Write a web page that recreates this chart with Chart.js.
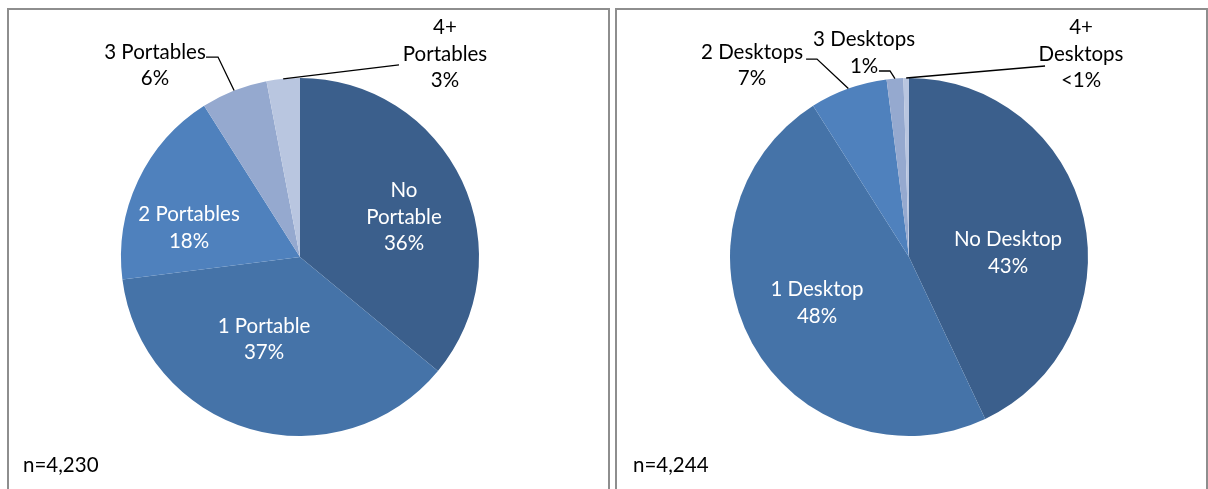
<!DOCTYPE html>
<html>
<head>
<meta charset="utf-8">
<script src="https://cdn.jsdelivr.net/npm/chart.js@4/dist/chart.umd.min.js"></script>
<style>
  html, body { margin: 0; padding: 0; background: #fff; }
  body { width: 1208px; height: 489px; position: relative; overflow: hidden; }
  .box { position: absolute; top: 8px; height: 500px; border: 2px solid #8e8e8e; box-sizing: border-box; background: #fff; }
  #boxL { left: 7px; width: 603px; }
  #boxR { left: 615px; width: 593px; }
  canvas { position: absolute; left: 0; top: 0; }
</style>
</head>
<body>
<div class="box" id="boxL"><canvas id="chartL" width="599" height="480"></canvas></div>
<div class="box" id="boxR"><canvas id="chartR" width="589" height="480"></canvas></div>
<script>
// ---------- DATA ----------
const portableCategories = ['No Portable', '1 Portable', '2 Portables', '3 Portables', '4+ Portables'];
const portableValues = [36, 37, 18, 6, 3];
const portableLabelLines = [['No', 'Portable', '36%'], ['1 Portable', '37%'], ['2 Portables', '18%'], ['3 Portables', '6%'], ['4+', 'Portables', '3%']];
const portableSample = 'n=4,230';

const desktopCategories = ['No Desktop', '1 Desktop', '2 Desktops', '3 Desktops', '4+ Desktops'];
const desktopValues = [43, 48, 7, 1.5, 0.5];
const desktopLabelLines = [['No Desktop', '43%'], ['1 Desktop', '48%'], ['2 Desktops', '7%'], ['3 Desktops', '1%'], ['4+', 'Desktops', '<1%']];
const desktopSample = 'n=4,244';

// ---------- STYLE ----------
const sliceColors = ['#3b5f8c', '#4573a8', '#4f81bd', '#95a9cf', '#b9c6e0'];
const FONT = '20.5px Lato, "Open Sans", sans-serif';
const LINE_H = 26.5;

// label layout, normalised to the pie radius, relative to the pie centre
const portableLayout = [
  { inside: true,  dx: 0.581,  dy: -0.223 },
  { inside: true,  dx: -0.201, dy: 0.461 },
  { inside: true,  dx: -0.620, dy: -0.162 },
  { inside: false, dx: -0.810, dy: -1.070, leader: [[-0.525, -1.117], [-0.458, -1.117]] },
  { inside: false, dx: 0.810,  dy: -1.134, leader: [[0.553, -1.073]] }
];
const desktopLayout = [
  { inside: true,  dx: 0.553,  dy: -0.022 },
  { inside: true,  dx: -0.514, dy: 0.257 },
  { inside: false, dx: -0.877, dy: -1.070, leader: [[-0.575, -1.106], [-0.514, -1.106]] },
  { inside: false, dx: -0.251, dy: -1.140, leader: [[-0.168, -1.039], [-0.106, -1.039]] },
  { inside: false, dx: 0.961,  dy: -1.134, leader: [[0.760, -1.067]] }
];

const pieLabelPlugin = {
  id: 'pieLabels',
  afterDatasetsDraw(chart, args, opts) {
    const ctx = chart.ctx;
    const meta = chart.getDatasetMeta(0);
    ctx.save();
    ctx.font = FONT;
    ctx.textAlign = 'center';
    ctx.textBaseline = 'middle';
    meta.data.forEach((arc, i) => {
      const p = arc.getProps(['x', 'y', 'startAngle', 'endAngle', 'outerRadius'], true);
      const cx = p.x, cy = p.y, r = p.outerRadius;
      const mid = (p.startAngle + p.endAngle) / 2;
      const lay = opts.layout[i];
      const lines = opts.lines[i];
      const tx = cx + lay.dx * r, ty = cy + lay.dy * r;
      if (!lay.inside && lay.leader) {
        ctx.beginPath();
        ctx.strokeStyle = '#000';
        ctx.lineWidth = 1.3;
        lay.leader.forEach((pt, k) => {
          const X = cx + pt[0] * r, Y = cy + pt[1] * r;
          if (k === 0) ctx.moveTo(X, Y); else ctx.lineTo(X, Y);
        });
        ctx.lineTo(cx + Math.cos(mid) * r, cy + Math.sin(mid) * r);
        ctx.stroke();
      }
      ctx.fillStyle = lay.inside ? '#ffffff' : '#000000';
      const n = lines.length;
      lines.forEach((t, k) => {
        ctx.fillText(t, tx, ty + (k - (n - 1) / 2) * LINE_H);
      });
    });
    ctx.textAlign = 'left';
    ctx.fillStyle = '#000';
    ctx.fillText(opts.sample, opts.sampleX, opts.sampleY);
    ctx.restore();
  }
};

function makePie(id, categories, values, lines, layout, sample, pad, sampleX) {
  return new Chart(document.getElementById(id), {
    type: 'pie',
    data: {
      labels: categories,
      datasets: [{ data: values, backgroundColor: sliceColors, borderWidth: 0, hoverOffset: 0 }]
    },
    options: {
      responsive: false,
      animation: false,
      layout: { padding: pad },
      plugins: {
        legend: { display: false },
        tooltip: { enabled: false },
        pieLabels: { lines: lines, layout: layout, sample: sample, sampleX: sampleX, sampleY: 455 }
      }
    },
    plugins: [pieLabelPlugin]
  });
}

makePie('chartL', portableCategories, portableValues, portableLabelLines, portableLayout, portableSample,
  { left: 112, right: 129, top: 68, bottom: 54 }, 14);
makePie('chartR', desktopCategories, desktopValues, desktopLabelLines, desktopLayout, desktopSample,
  { left: 113, right: 118, top: 68, bottom: 54 }, 16);
</script>
</body>
</html>
